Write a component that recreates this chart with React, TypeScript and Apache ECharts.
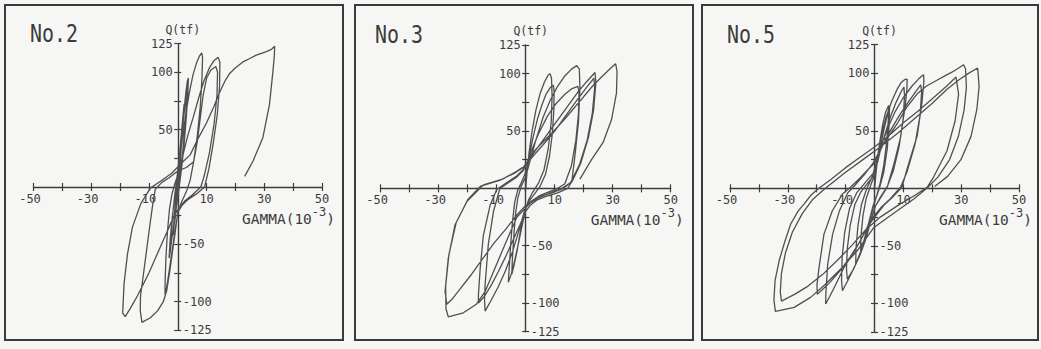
import React, { useEffect, useRef } from "react";
import * as echarts from "echarts";

type Pt = [number, number];

// Tick labels shown on the crossing axes
const X_TICK_LABELS = [-50, -30, -10, 10, 30, 50];
const Y_LABELS_UPPER = [125, 100, 50];
const Y_LABELS_LOWER = [-50, -100, -125];
const SPECIMENS = ["No.2", "No.3", "No.5"];

// Shear force Q (tf) against shear strain GAMMA (10^-3), in loading order
const NO2_LOOPS: Pt[] = [
  [0, 0], [0.4, 15], [0.8, 30], [1.1, 42], [1.4, 50], [1.2, 40], [0.8, 25], [0.3, 8], [-0.2, -8], [-0.6, -20],
  [-1, -30], [-0.8, -20], [-0.4, -6], [0.1, 10], [0.6, 28], [1.2, 45], [1.8, 62], [2.2, 72], [2, 60], [1.4, 40],
  [0.7, 18], [0, 0], [-0.6, -18], [-1.2, -32], [-1.6, -42], [-1.3, -28], [-0.7, -10], [0, 8], [0.8, 30], [1.6, 52],
  [2.3, 70], [2.8, 82], [3.3, 92], [3.7, 95], [3.5, 82], [3, 62], [2.3, 40], [1.5, 20], [0.6, 2], [-0.3, -15],
  [-1.2, -30], [-2, -44], [-2.5, -52], [-2.2, -38], [-1.6, -20], [-0.9, -4], [-0.2, 10], [0.6, 28], [1.5, 48], [2.3, 66],
  [2.9, 80], [3.2, 88], [3.1, 76], [2.6, 56], [1.9, 35], [1, 14], [0, -4], [-0.9, -22], [-1.8, -40], [-2.6, -56],
  [-3, -62], [-2.6, -45], [-1.8, -24], [-1, -8], [-0.3, 5],
  [0.5, 20], [1.5, 40], [2.7, 62], [4, 82], [5.3, 98], [6.5, 108], [7.5, 114], [8.3, 117], [8.6, 113], [8.4, 95],
  [7.8, 70], [6.8, 45], [5.5, 22], [4.3, 6], [3, -4], [1.5, -12], [0.3, -20],
  [-0.6, -32], [-1.5, -48], [-2.4, -63], [-3.2, -77], [-3.9, -88], [-4.4, -94], [-4.4, -84], [-4.1, -62], [-3.6, -40], [-2.9, -20],
  [-2, -6], [-1, 3], [0, 10],
  [1.5, 25], [3.5, 45], [5.5, 62], [7.3, 78], [9, 92], [11, 104], [12.5, 110], [14, 113], [14.6, 109], [14.5, 88],
  [13.7, 63], [12.3, 38], [10.8, 16], [9.3, 0], [6.5, -6], [3.5, -11], [1.5, -16], [0, -22],
  [-0.8, -38], [-1.8, -56], [-2.8, -74], [-3.8, -90], [-5, -100], [-7, -108], [-9.5, -114], [-12.4, -118], [-13, -108], [-12.9, -95],
  [-12, -78], [-10.8, -55], [-9.6, -32], [-8.6, -14], [-7.8, -2], [-5.5, 4], [-3, 8], [0, 14], [3, 17], [5.5, 22],
  [6.8, 40], [7.8, 60], [8.8, 80], [10, 95], [11.5, 102], [13.2, 105], [13.8, 100], [13.6, 80], [12.6, 55], [11, 30],
  [9.2, 10], [8, 0], [5, -7], [2.5, -12], [0.5, -18],
  [-1.5, -26], [-3, -35], [-6, -52], [-10, -75], [-14, -95], [-16.5, -106], [-18.2, -113], [-19.1, -110], [-18.6, -84], [-17.4, -58],
  [-15.7, -35], [-12.8, -14.5], [-9.5, -1], [-6, 5], [-2.1, 12], [1, 20], [4.3, 28], [7, 42], [10, 56], [12.5, 70],
  [14.6, 83], [16.5, 93], [18, 99], [20, 104], [22.6, 109], [25, 112], [27.2, 115], [29.5, 117], [30.7, 118], [32.5, 120],
  [33.6, 122.7], [33.5, 115], [33, 101], [31.8, 72], [29.5, 43], [26.1, 22.7], [23.2, 9.3],
];

const NO3_LOOPS: Pt[] = [
  [0, 0], [0.5, 15], [1.2, 32], [2.2, 50], [3.5, 68], [5, 83], [6.5, 93], [7.8, 99], [8.4, 100], [8.9, 96],
  [9.1, 80], [8.8, 58], [7.8, 35], [6.3, 16], [4.5, 5], [2.5, -3], [1, -10], [0, -18], [-1.2, -32], [-2.5, -48],
  [-3.8, -63], [-5, -75], [-6, -82], [-5.7, -70], [-5.2, -50], [-4.6, -30], [-3.8, -12], [-2.8, -2], [-1.5, 5], [0, 14],
  [1.2, 28], [2.5, 44], [4, 60], [5.5, 72], [7, 82], [8.5, 88], [9.5, 90], [9.8, 85], [9.7, 68], [9.2, 48],
  [8.2, 28], [6.8, 12], [5, 2], [3, -5], [1.2, -11], [0, -16], [-1, -26], [-2, -40], [-3, -55], [-4, -67],
  [-4.8, -75], [-4.6, -62], [-4.1, -42], [-3.5, -22], [-2.7, -8], [-1.5, 2], [0, 10],
  [1.5, 24], [3.5, 42], [6, 62], [8.5, 77], [11, 89], [13.5, 98], [15.8, 104], [17.6, 107], [18.5, 104], [18.7, 87],
  [18.2, 58], [17, 29], [15.9, 6], [14.5, 0], [11, -4], [7, -7], [4, -10], [1.5, -15], [0, -20],
  [-2, -32], [-4.5, -46], [-7, -60], [-9.5, -73], [-12, -85], [-14.5, -95], [-16.3, -100], [-16.3, -93], [-15.7, -70], [-14.6, -41],
  [-12.3, -15], [-10, -1], [-6.5, 5], [-3, 11], [-1, 16], [0, 20],
  [2, 33], [4.5, 48], [7.5, 63], [10.5, 74], [13.5, 82], [16, 87], [18, 89], [18.4, 84], [18.2, 65], [17.3, 42],
  [15.8, 20], [13.5, 4], [11, 0], [8, -3], [5, -6], [2, -11], [0, -16],
  [-2, -34], [-4.5, -55], [-7, -72], [-9.5, -86], [-12, -98], [-14, -107], [-14.2, -97], [-14, -84], [-12.9, -49], [-11.1, -20],
  [-8.9, 0], [-6, 5], [-3, 10], [-1, 15], [0, 20],
  [2.5, 30], [6, 42], [10, 56], [14, 70], [18, 84], [21, 93], [23.9, 101], [24.2, 92], [23.4, 68], [21.6, 44],
  [19, 22], [16, 6], [13, 0], [9, -4], [5, -7], [2, -11], [0, -15],
  [-3, -23], [-7, -36], [-11, -48], [-15, -62], [-19, -76], [-23, -89], [-25.5, -97], [-27.2, -101], [-27.8, -90], [-26.7, -61],
  [-24.4, -32], [-20.3, -11.6], [-14.6, 3], [-8, 8], [-3, 15], [0, 20],
  [2.5, 28], [6, 38], [10, 50], [14, 64], [18, 78], [21, 88], [23.5, 96], [23.8, 88], [23, 66], [21.2, 42],
  [18.6, 21], [15.5, 5], [12.5, 0], [8.5, -4], [4.5, -8], [1.5, -13], [0, -17],
  [-3, -25], [-7, -48], [-11, -72], [-14, -90], [-17, -101], [-21.5, -108.5], [-26.7, -112], [-27.5, -105], [-27.6, -85], [-26.5, -58],
  [-24, -30], [-20, -10], [-15.5, 2], [-9, 7], [-4, 13], [-1, 18], [0, 21],
  [2, 30], [5, 38], [9, 48], [14, 62], [19, 77], [23, 89], [26.5, 98], [29, 104], [31, 108.7], [31.5, 102],
  [31.3, 83], [29.6, 60], [26.7, 40], [22.7, 25], [18.7, 8],
];

const NO5_LOOPS: Pt[] = [
  [0, 0], [0.8, 20], [1.8, 40], [2.8, 55], [3.8, 66], [4.9, 72], [4.8, 60], [4.2, 40], [3.2, 20], [2, 5],
  [0.8, -6], [-0.6, -16], [-2, -30], [-3.5, -44], [-4.8, -55], [-4.7, -42], [-4, -24], [-2.9, -9], [-1.4, 2], [0.2, 13],
  [1.6, 30], [3, 48], [4.2, 61], [5.2, 70], [5.1, 56], [4.4, 34], [3.2, 14], [1.8, 1], [0.3, -10], [-1.6, -27],
  [-3.6, -46], [-5.2, -59], [-6.5, -66], [-6.4, -52], [-5.7, -32], [-4.5, -14], [-2.8, -1], [-0.8, 10],
  [0.8, 24], [2.2, 44], [4, 62], [6, 76], [7.8, 86], [9.2, 92], [10.4, 94.5], [11.3, 95], [11.2, 86], [10.7, 73],
  [9, 44], [6.7, 21], [4.4, 1], [2.4, -7], [0.4, -15],
  [-1.2, -28], [-3, -44], [-5, -58], [-7.2, -70], [-9.4, -79], [-9.7, -70], [-9.4, -52], [-8.4, -32], [-6.8, -14], [-4.7, -3],
  [-2.2, 5], [0, 12],
  [1.5, 28], [3.5, 46], [5.5, 62], [7.5, 75], [9.2, 84], [10.2, 88], [10.4, 80], [9.9, 60], [8.5, 36], [6.5, 15],
  [4.5, 2], [2.2, -7], [0.2, -16],
  [-1.8, -33], [-4, -50], [-6.5, -66], [-9, -79], [-11.1, -89], [-11.4, -80], [-11.2, -60], [-10.3, -38], [-8.6, -17], [-6.2, -4],
  [-3.2, 5], [-0.5, 13],
  [1, 22], [2.5, 38], [4.5, 52], [7, 66], [10, 79], [13, 89], [15.2, 95], [16.5, 98], [17, 98.8], [17.1, 93],
  [16.4, 74], [14.8, 46], [11.3, 17], [9.5, 1], [6.5, -7], [3.5, -14], [1, -22],
  [-2, -32], [-5, -46], [-8.5, -60], [-12, -72], [-15.5, -82], [-18, -88], [-19.8, -92], [-19.9, -84], [-19.2, -69], [-17.5, -40],
  [-14.6, -19.5], [-11.1, -5], [-8.3, 1], [-5, 9], [-2, 17], [0, 22],
  [2, 33], [5, 48], [8.5, 63], [12, 76], [14.5, 85], [16, 90], [16.3, 84], [15.8, 64], [14, 38], [11.2, 14],
  [9, 1], [5.5, -9], [2.5, -16], [0.5, -22],
  [-1.8, -30], [-3.7, -40], [-7, -55], [-10.6, -69], [-13.5, -84], [-15.5, -94], [-16.9, -100.6], [-16.8, -90], [-16.2, -66], [-14.5, -40],
  [-12.2, -20], [-9.3, -4], [-7, 2], [-3.5, 12], [-0.5, 22],
  [3, 38], [7.8, 56], [11, 70], [14.7, 82], [18, 89], [21.6, 94], [24.5, 98], [26.8, 101], [29, 104.5], [30.8, 107.5],
  [31.5, 104], [31.8, 88], [31, 68], [29, 45], [26, 25], [22, 10], [18.5, 1],
  [13.6, -9.3], [7, -21], [-0.2, -34], [-6, -54.3], [-11.7, -70.2], [-16.9, -83.2], [-22.1, -94.8], [-27.8, -103.5], [-33, -106.4], [-34.3, -107],
  [-34.8, -97], [-34.4, -80], [-33, -63], [-31, -46], [-29, -31], [-26.5, -20], [-24.4, -13.7], [-22, -6], [-19.8, -1],
  [-15, 8], [-10, 18], [-5, 27], [0, 36], [5, 46], [10, 57], [15, 67], [20, 78], [25, 89], [28.2, 96.8],
  [29.1, 82], [27.9, 58.8], [25.1, 32.7], [20.4, 9.6], [18.2, 0.9],
  [14, -6], [8, -15], [2, -25], [-3, -36], [-8, -50], [-13, -63], [-18, -75], [-23, -85], [-27.5, -92], [-32.2, -98],
  [-32.6, -90], [-32.2, -74], [-30.8, -56], [-28.4, -38], [-25, -22], [-21.5, -10], [-18, -2], [-16, 2],
  [-10, 14], [-4, 25], [2, 36], [8, 48], [14, 61], [20, 74], [25, 86], [29, 94], [32.5, 100], [35.7, 104.6],
  [36.2, 88.7], [35.4, 68.4], [33.4, 45.2], [29.9, 24.9], [25.3, 10.4], [20.8, 1.7],
];

const PANEL_DATA = [NO2_LOOPS, NO3_LOOPS, NO5_LOOPS];

// Panel layout in pixels: frame box, plot area and title anchor
const FRAMES = [
  { box: [5, 5, 338, 335], grid: [33.5, 43.6, 288.5, 286.8], title: [30, 34] },
  { box: [355, 5, 338, 335], grid: [380.7, 45, 290, 286.7], title: [375, 35] },
  { box: [702, 5, 336, 335], grid: [730, 44.6, 289, 287.5], title: [727, 35] },
];

const FONT = '"DejaVu Sans Mono", monospace';
const INK = "#3c3c3c";
const CURVE = "#505050";
const PAPER = "#f6f6f4";

function buildOption() {
  const xAxis: any[] = [];
  const yAxis: any[] = [];
  FRAMES.forEach((f, g) => {
    const [, , gw, gh] = f.grid;
    // both ranges are symmetric about zero, so the crossing axes sit at the plot centre
    const xShift = -gh / 2;
    const yShift = -gw / 2;
    const tickStyle = { color: INK, width: 1.2 };
    xAxis.push({
      type: "value",
      gridIndex: g,
      min: -50,
      max: 50,
      interval: 10,
      position: "bottom",
      offset: xShift,
      axisLine: { show: true, onZero: false, lineStyle: { color: INK, width: 1.4 } },
      axisTick: { show: true, length: 4, lineStyle: tickStyle },
      axisLabel: {
        show: true,
        margin: 6,
        fontFamily: FONT,
        fontSize: 12,
        color: INK,
        formatter: (v: number) =>
          X_TICK_LABELS.includes(v) ? (v < 0 ? `{n|${v}}` : String(v)) : "",
        rich: { n: { fontFamily: FONT, fontSize: 12, color: INK, padding: [0, 7, 0, 0] } },
      },
      splitLine: { show: false },
    });
    xAxis.push({
      type: "value",
      gridIndex: g,
      min: -50,
      max: 50,
      interval: 10,
      position: "top",
      offset: xShift,
      axisLine: { show: false, onZero: false },
      axisTick: { show: true, length: 4, lineStyle: tickStyle },
      axisLabel: { show: false },
      splitLine: { show: false },
    });
    yAxis.push({
      type: "value",
      gridIndex: g,
      min: -125,
      max: 125,
      interval: 25,
      position: "left",
      offset: yShift,
      name: "Q(tf)",
      nameLocation: "end",
      nameGap: 8,
      nameTextStyle: { fontFamily: FONT, fontSize: 11.5, color: INK, padding: [0, 0, 0, 10] },
      axisLine: { show: true, onZero: false, lineStyle: { color: INK, width: 1.4 } },
      axisTick: { show: true, length: 3.5, lineStyle: tickStyle },
      axisLabel: {
        show: true,
        margin: 5,
        fontFamily: FONT,
        fontSize: 12,
        color: INK,
        formatter: (v: number) => (Y_LABELS_UPPER.includes(v) ? String(v) : ""),
      },
      splitLine: { show: false },
    });
    yAxis.push({
      type: "value",
      gridIndex: g,
      min: -125,
      max: 125,
      interval: 25,
      position: "right",
      offset: yShift,
      axisLine: { show: false, onZero: false },
      axisTick: { show: true, length: 3.5, lineStyle: tickStyle },
      axisLabel: {
        show: true,
        margin: 5,
        fontFamily: FONT,
        fontSize: 12,
        color: INK,
        formatter: (v: number) => (Y_LABELS_LOWER.includes(v) ? String(v) : ""),
      },
      splitLine: { show: false },
    });
  });

  const graphic: any[] = [];
  FRAMES.forEach((f, g) => {
    const [bx, by, bw, bh] = f.box;
    const [gl, gt, gw, gh] = f.grid;
    graphic.push({
      type: "rect",
      silent: true,
      shape: { x: bx, y: by, width: bw, height: bh },
      style: { fill: "none", stroke: "#3a3a3a", lineWidth: 2 },
    });
    graphic.push({
      type: "text",
      silent: true,
      x: f.title[0],
      y: f.title[1],
      scaleX: 0.83,
      style: {
        text: SPECIMENS[g],
        fontFamily: FONT,
        fontSize: 24,
        fill: INK,
        align: "left",
        verticalAlign: "middle",
      },
    });
    graphic.push({
      type: "text",
      silent: true,
      x: gl + gw - 80,
      y: gt + gh / 2 + 29,
      style: {
        text: "{b|GAMMA(10}{s|-3}{b|)}",
        fill: INK,
        align: "left",
        verticalAlign: "middle",
        rich: {
          b: { fontFamily: FONT, fontSize: 14.5, fill: INK, lineHeight: 20, verticalAlign: "bottom" },
          s: { fontFamily: FONT, fontSize: 12, fill: INK, lineHeight: 13, verticalAlign: "top" },
        },
      },
    });
  });

  return {
    animation: false,
    backgroundColor: PAPER,
    grid: FRAMES.map((f) => ({
      left: f.grid[0],
      top: f.grid[1],
      width: f.grid[2],
      height: f.grid[3],
      containLabel: false,
      outerBoundsMode: "none",
    })),
    xAxis,
    yAxis,
    series: PANEL_DATA.map((d, g) => ({
      type: "line",
      name: SPECIMENS[g],
      xAxisIndex: 2 * g,
      yAxisIndex: 2 * g,
      data: d,
      symbol: "none",
      showSymbol: false,
      silent: true,
      lineStyle: { color: CURVE, width: 1.3 },
    })),
    graphic,
  };
}

export default function App() {
  const ref = useRef<HTMLDivElement>(null);
  useEffect(() => {
    if (!ref.current) return;
    const chart = echarts.init(ref.current, undefined, { renderer: "svg" });
    chart.setOption(buildOption() as any);
    return () => chart.dispose();
  }, []);
  return (
    <div
      ref={ref}
      style={{ position: "fixed", left: 0, top: 0, width: 1041, height: 349, background: PAPER }}
    />
  );
}
